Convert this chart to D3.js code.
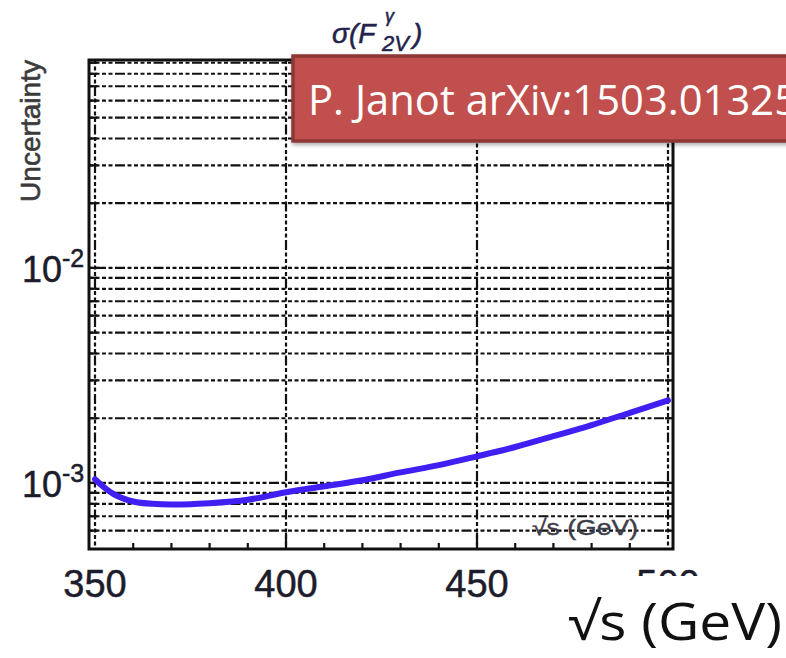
<!DOCTYPE html>
<html>
<head>
<meta charset="utf-8">
<script src="https://cdn.jsdelivr.net/npm/d3@7"></script>
<style>
  body { margin: 0; background: #fff; }
  svg { display: block; }
</style>
</head>
<body>
<script>
// values
const energies = [350, 352.5, 355, 357.5, 360, 365, 370, 375, 380, 390, 400, 410, 420, 430, 440, 450, 460, 470, 480, 490, 500];
const uncertainty = [1.04e-3, 0.95e-3, 0.885e-3, 0.845e-3, 0.82e-3, 0.80e-3, 0.795e-3, 0.797e-3, 0.805e-3, 0.835e-3, 0.905e-3,
  0.965e-3, 1.03e-3, 1.12e-3, 1.21e-3, 1.33e-3, 1.47e-3, 1.65e-3, 1.86e-3, 2.12e-3, 2.42e-3];
const xTicks = [350, 400, 450, 500];
const yMajor = [1e-3, 1e-2];
const yLabels = ["-3", "-2"];
const yDomain = [4.93e-4, 0.0927];
const citation = "P. Janot arXiv:1503.01325";
const xTitle = "√s (GeV)";

const width = 786, height = 658;

const svg = d3.select("body").append("svg")
  .attr("width", width)
  .attr("height", height);

const x = d3.scaleLinear().domain([350, 500]).range([95, 668]);
const y = d3.scaleLog().domain(yDomain).range([549, 60]);

const frame = {left: 89, right: 673, top: 60, bottom: 549};
const dash = "4,2.5,4,2.5,4,2.5,4,2.5,10,2.5";

// horizontal grid on every log tick
const yGrid = y.ticks().filter(t => t > 5.5e-4 && t < yDomain[1]);
const isMajor = t => yMajor.some(m => Math.abs(m - t) / m < 1e-6);

svg.append("g")
  .selectAll("line")
  .data(yGrid)
  .enter()
  .append("line")
  .attr("x1", frame.left)
  .attr("x2", frame.right)
  .attr("y1", d => y(d))
  .attr("y2", d => y(d))
  .attr("stroke", "#111")
  .attr("stroke-width", 2.2)
  .attr("stroke-dasharray", dash);

svg.append("g")
  .selectAll("line")
  .data(xTicks)
  .enter()
  .append("line")
  .attr("x1", d => x(d))
  .attr("x2", d => x(d))
  .attr("y1", frame.top)
  .attr("y2", frame.bottom)
  .attr("stroke", "#111")
  .attr("stroke-width", 2.2)
  .attr("stroke-dasharray", dash);

// tick marks on left and right
const tickG = svg.append("g").attr("stroke", "#111").attr("stroke-width", 2.2);
yGrid.forEach(t => {
  const len = isMajor(t) ? 14 : 8;
  tickG.append("line").attr("x1", frame.left).attr("x2", frame.left + len)
    .attr("y1", y(t)).attr("y2", y(t));
  tickG.append("line").attr("x1", frame.right).attr("x2", frame.right - len)
    .attr("y1", y(t)).attr("y2", y(t));
});

// bottom axis ticks
const xMinor = d3.range(360, 500, 10);
xMinor.forEach(v => {
  const major = xTicks.includes(v);
  tickG.append("line")
    .attr("x1", x(v)).attr("x2", x(v))
    .attr("y1", frame.bottom)
    .attr("y2", frame.bottom - (major ? 16 : 6));
});

svg.append("rect")
  .attr("x", frame.left)
  .attr("y", frame.top)
  .attr("width", frame.right - frame.left)
  .attr("height", frame.bottom - frame.top)
  .attr("fill", "none")
  .attr("stroke", "#111")
  .attr("stroke-width", 3);

// the curve
const line = d3.line()
  .x((d, i) => x(energies[i]))
  .y(d => y(d))
  .curve(d3.curveMonotoneX);

svg.append("path")
  .datum(uncertainty)
  .attr("d", line)
  .attr("fill", "none")
  .attr("stroke", "#3f1ff2")
  .attr("stroke-width", 6)
  .attr("stroke-linecap", "round");

// inner axis title, partly hidden in the original
svg.append("text")
  .attr("x", 532)
  .attr("y", 535)
  .attr("font-family", "Liberation Sans, Arial, sans-serif")
  .attr("font-size", 22)
  .attr("fill", "#3c3c4a")
  .attr("stroke", "#3c3c4a")
  .attr("stroke-width", 0.4)
  .attr("textLength", 106)
  .attr("lengthAdjust", "spacingAndGlyphs")
  .text(xTitle);

// x tick labels
svg.append("g")
  .selectAll("text")
  .data(xTicks)
  .enter()
  .append("text")
  .attr("x", d => x(d))
  .attr("y", 597)
  .attr("text-anchor", "middle")
  .attr("font-family", "Liberation Sans, Arial, sans-serif")
  .attr("font-size", 38)
  .attr("fill", "#1c1c2c")
  .attr("stroke", "#1c1c2c")
  .attr("stroke-width", 0.5)
  .text(d => d);

// y tick labels 10^n
yMajor.forEach((v, i) => {
  const t = svg.append("text")
    .attr("x", 22)
    .attr("y", y(v) + 14)
    .attr("font-family", "Liberation Sans, Arial, sans-serif")
    .attr("font-size", 36)
    .attr("fill", "#1c1c2c")
    .attr("stroke", "#1c1c2c")
    .attr("stroke-width", 0.5);
  t.append("tspan").text("10");
  t.append("tspan")
    .attr("dy", -15)
    .attr("font-size", 25)
    .text(yLabels[i]);
});

svg.append("text")
  .attr("transform", "translate(40,202) rotate(-90)")
  .attr("font-family", "Liberation Sans, Arial, sans-serif")
  .attr("font-size", 28)
  .attr("fill", "#3a3a3a")
  .attr("stroke", "#3a3a3a")
  .attr("stroke-width", 0.6)
  .attr("textLength", 142)
  .attr("lengthAdjust", "spacingAndGlyphs")
  .text("Uncertainty");

// title sigma(F^gamma_2V)
const titleFont = "Liberation Sans, Arial, sans-serif";
const title = svg.append("g")
  .attr("font-family", titleFont)
  .attr("font-style", "italic")
  .attr("fill", "#22224a")
  .attr("stroke", "#22224a")
  .attr("stroke-width", 0.5);
title.append("text").attr("x", 332).attr("y", 43).attr("font-size", 28).text("σ(F");
title.append("text").attr("x", 385).attr("y", 22).attr("font-size", 18).text("γ");
title.append("text").attr("x", 382).attr("y", 51).attr("font-size", 22).text("2V");
title.append("text").attr("x", 413).attr("y", 43).attr("font-size", 28).text(")");

// citation box
const defs = svg.append("defs");
const shadow = defs.append("filter").attr("id", "shadow")
  .attr("x", "-5%").attr("y", "-10%").attr("width", "120%").attr("height", "130%");
shadow.append("feDropShadow")
  .attr("dx", 1).attr("dy", 2).attr("stdDeviation", 2)
  .attr("flood-color", "#000").attr("flood-opacity", 0.35);

svg.append("rect")
  .attr("x", 293)
  .attr("y", 56)
  .attr("width", 520)
  .attr("height", 85)
  .attr("fill", "#c0504d")
  .attr("stroke", "#8c3836")
  .attr("stroke-width", 3.5)
  .attr("filter", "url(#shadow)");

svg.append("text")
  .attr("x", 308)
  .attr("y", 115)
  .attr("font-family", "Open Sans, sans-serif")
  .attr("font-size", 42)
  .attr("fill", "#fff")
  .attr("textLength", 490)
  .attr("lengthAdjust", "spacingAndGlyphs")
  .text(citation);

// slide-level axis title covering part of the plot labels
svg.append("rect")
  .attr("x", 550)
  .attr("y", 576)
  .attr("width", 236)
  .attr("height", 82)
  .attr("fill", "#fff");

svg.append("text")
  .attr("x", 568)
  .attr("y", 640)
  .attr("font-family", "Open Sans, sans-serif")
  .attr("font-size", 52)
  .attr("fill", "#111")
  .attr("textLength", 214)
  .attr("lengthAdjust", "spacingAndGlyphs")
  .text(xTitle);
</script>
</body>
</html>
